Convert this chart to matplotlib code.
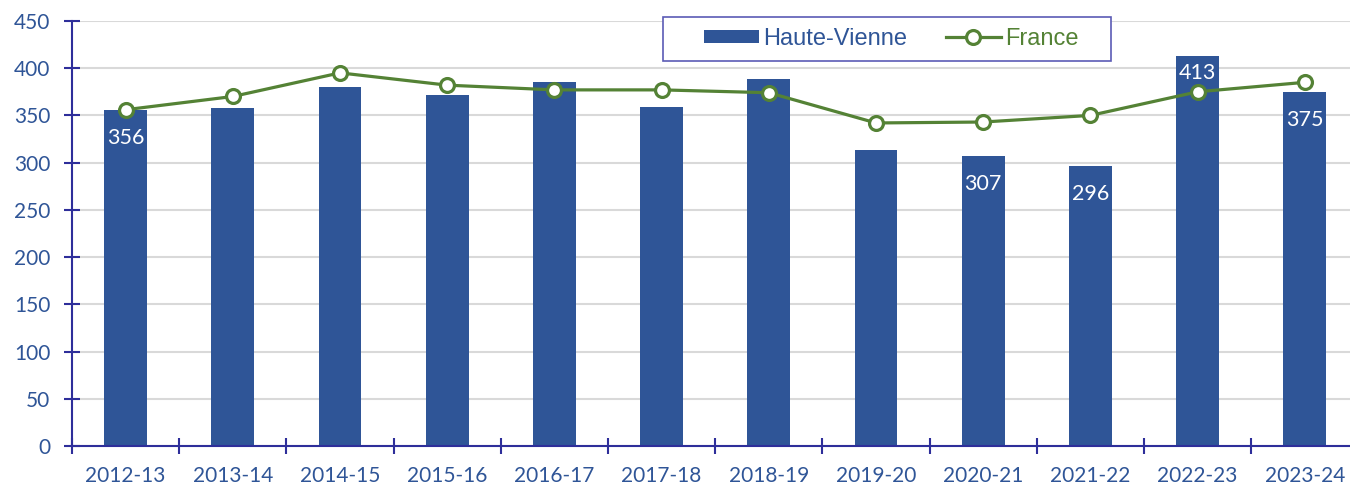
import matplotlib.pyplot as plt
from matplotlib.patches import Rectangle
import numpy as np

# Données
annees = ['2012-13', '2013-14', '2014-15', '2015-16', '2016-17', '2017-18',
          '2018-19', '2019-20', '2020-21', '2021-22', '2022-23', '2023-24']
haute_vienne = [356, 358, 380, 372, 385, 359, 389, 313, 307, 296, 413, 375]
france = [356, 370, 395, 382, 377, 377, 374, 342, 343, 350, 375, 385]
annees_etiquetees = ['2012-13', '2020-21', '2021-22', '2022-23', '2023-24']

BLEU = '#2F5597'
VERT = '#548235'
AXE = '#2E2E9A'

fig = plt.figure(figsize=(13.5, 4.86), dpi=100)
ax = fig.add_axes([0.0533, 0.082, 0.9530, 0.875])

x = np.arange(len(annees))
barres = ax.bar(x, haute_vienne, width=0.4, color=BLEU, zorder=2, label='Haute-Vienne')
ligne, = ax.plot(x, france, '-o', color=VERT, lw=2.3, ms=10, mfc='white', mec=VERT, mew=2.3,
                 zorder=3, label='France')

# Étiquettes de données (blanches, dans le haut des barres)
for i, annee in enumerate(annees):
    if annee in annees_etiquetees:
        decalage = -12 if annee == '2022-23' else -20
        ax.annotate(str(haute_vienne[i]), xy=(x[i], haute_vienne[i]), xytext=(0, decalage),
                    textcoords='offset points', ha='center', va='center',
                    color='white', fontsize=15.5, family='Lato', zorder=4)

ax.set_xlim(-0.5, len(annees) - 0.5)
ax.set_ylim(0, 450)
ax.set_yticks(np.arange(0, 451, 50))
ax.grid(axis='y', color='#D9D9D9', lw=1.5, zorder=0)
ax.set_axisbelow(True)

ax.set_xticks(x)
ax.set_xticklabels(annees)
ax.set_xticks(np.arange(-0.5, len(annees)), minor=True)

for s in ['top', 'right']:
    ax.spines[s].set_visible(False)
for s in ['left', 'bottom']:
    ax.spines[s].set_color(AXE)
    ax.spines[s].set_linewidth(1.5)

ax.tick_params(axis='x', which='major', length=0, pad=14, labelsize=15, labelcolor=BLEU)
ax.tick_params(axis='x', which='minor', direction='inout', length=11, width=1.5, color=AXE)
ax.tick_params(axis='y', direction='inout', length=11, width=1.5, color=AXE, pad=10,
               labelsize=15, labelcolor=BLEU)
for lab in ax.get_xticklabels() + ax.get_yticklabels():
    lab.set_family('Lato')

# Légende (cadre dessiné à part)
cadre = Rectangle((0.4911, 0.8745), 0.3319, 0.0905, transform=fig.transFigure,
                  facecolor='white', edgecolor='#5B5BB5', lw=1.2, zorder=5)
fig.patches.append(cadre)
leg = fig.legend([barres, ligne], ['Haute-Vienne', 'France'], loc='center',
                 bbox_to_anchor=(0.6604, 0.9198), ncol=2, frameon=False,
                 prop={'family': 'Liberation Sans', 'size': 17},
                 handlelength=2.3, handleheight=0.5, handletextpad=0.2,
                 columnspacing=1.65, borderpad=0, borderaxespad=0)
leg.get_texts()[0].set_color(BLEU)
leg.get_texts()[1].set_color(VERT)
leg.set_zorder(6)

fig.savefig('out.png', dpi=100)
